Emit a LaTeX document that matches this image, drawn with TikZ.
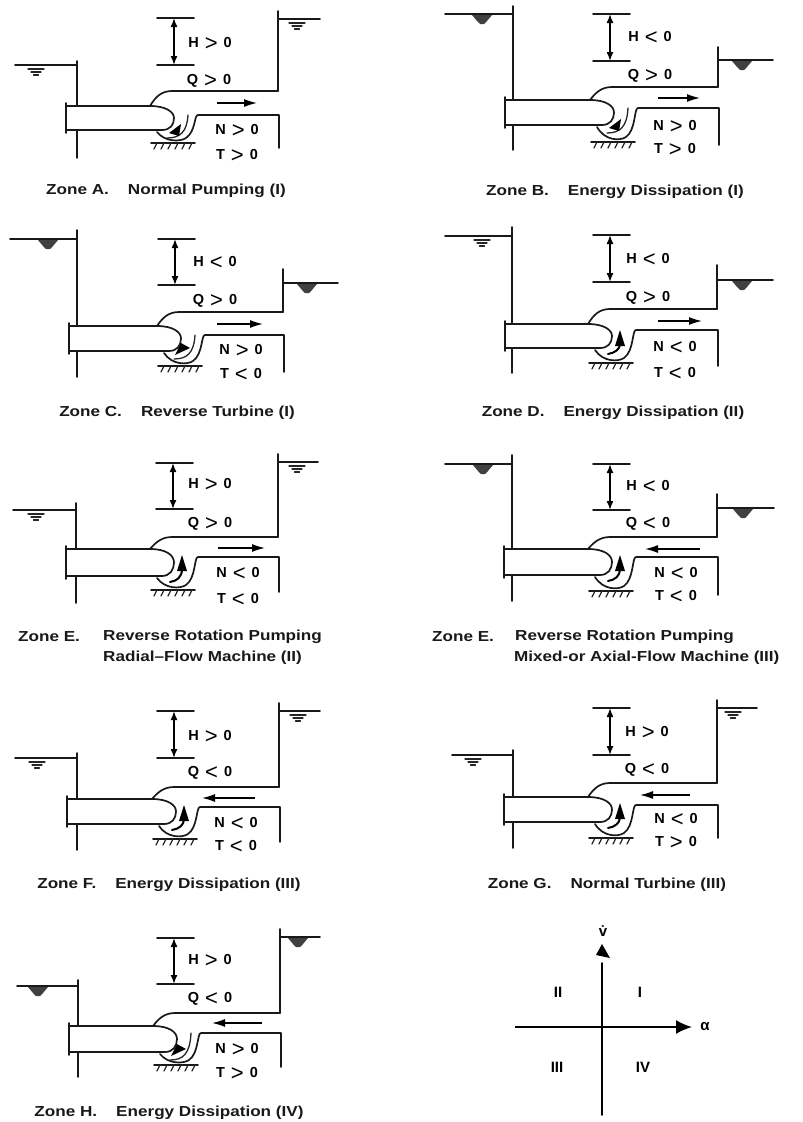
\documentclass[tikz,border=0pt]{standalone}
\usepackage{fontspec}
\setmainfont{Liberation Sans}
\newfontfamily\capfont[FakeStretch=1.18]{Liberation Sans Bold}
\usetikzlibrary{arrows.meta}
\tikzset{
  wallline/.style={line width=1.7pt,line cap=round,line join=round,draw=black!90},
  thinline/.style={line width=1.3pt,line cap=round,draw=black!85},
  dimarrow/.style={line width=1.5pt,{Latex[length=9pt,width=7pt]}-{Latex[length=9pt,width=7pt]}},
  flowarrow/.style={line width=1.4pt,-{Latex[length=13pt,width=8pt]}},
  signtext/.style={inner sep=0pt,yshift=-1pt,font=\bfseries\fontsize{14.5}{15}\selectfont},
  captext/.style={inner sep=0pt,font=\capfont\fontsize{14.5}{18}\selectfont,text=black!90},
  quadtext/.style={inner sep=0pt,font=\bfseries\fontsize{15}{16}\selectfont},
}
\newcommand{\sgn}[3]{#1\hspace{6pt}\raisebox{-2.5pt}{\normalfont\fontsize{22}{22}\selectfont #2}\hspace{6pt}#3}
% geometry of a panel
\newcommand{\setpanel}[9]{\def\vx{#1}\def\ptop{#2}\def\pbot{#3}\def\fx{#4}\def\voly{#5}\def\rwx{#6}\def\outy{#7}\def\outbot{#8}\def\gy{#9}}
\newcommand{\watersym}[2]{%
  \draw[thinline] ({#1-8},{#2+4}) -- ({#1+8},{#2+4});
  \draw[thinline] ({#1-5},{#2+7}) -- ({#1+5},{#2+7});
  \draw[thinline] ({#1-2.5},{#2+10}) -- ({#1+2.5},{#2+10});}
\newcommand{\waterblot}[2]{%
  \fill[black!75] ({#1-10},{#2+1}) -- ({#1+10},{#2+1}) -- ({#1+5},{#2+7}) -- ({#1+2},{#2+10}) -- ({#1-2},{#2+10}) -- ({#1-5},{#2+7}) -- cycle;}
\newcommand{\lefttank}[6]{%
  \draw[wallline] (#1,#3) -- (#2,#3);
  \draw[wallline] (#2,#4) -- (#2,\ptop);
  \draw[wallline] (#2,\pbot) -- (#2,#5);
  \ifnum\wmode=1 \waterblot{#6}{#3}\else\watersym{#6}{#3}\fi}
\newcommand{\righttank}[4]{%
  \draw[wallline] (\rwx,\voly) -- (\rwx,#1);
  \draw[wallline] (\rwx,#2) -- (#3,#2);
  \ifnum\wmode=1 \waterblot{#4}{#2}\else\watersym{#4}{#2}\fi}
\newcommand{\vaneup}{%
  \fill ({\vx+32},{\ptop+6}) -- ({\vx+37},{\ptop+22}) -- ({\vx+27},{\ptop+22}) -- cycle;
  \draw[line width=2pt,line cap=round] ({\vx+32},{\ptop+20}) .. controls ({\vx+32},{\pbot+1}) and ({\vx+27},{\pbot+5}) .. ({\vx+20},{\pbot+6});}
\newcommand{\vaneur}{%
  \draw[thinline] ({\vx+38},{\outy}) .. controls ({\vx+37},{\pbot+2}) and ({\vx+30},{\pbot+8}) .. ({\vx+17},{\pbot+8});
  \fill ({\vx+31},{\pbot-6}) -- ({\vx+19},{\pbot+3}) -- ({\vx+29},{\pbot+6}) -- cycle;}
\newcommand{\vanedl}{%
  \draw[thinline] ({\vx+38},{\outy}) .. controls ({\vx+37},{\pbot+2}) and ({\vx+30},{\pbot+8}) .. ({\vx+17},{\pbot+8});
  \fill ({\vx+18},{\pbot+4}) -- ({\vx+24},{\pbot-8}) -- ({\vx+33},{\pbot-3}) -- cycle;}
\newcommand{\pumpbody}[1]{%
  \draw[wallline] (\fx,{\ptop-3}) -- (\fx,{\pbot+3});
  \draw[wallline] (\fx,\ptop) -- (\vx,\ptop)
     .. controls ({\vx+16},\ptop) and ({\vx+24},{\ptop+6}) .. ({\vx+24},{(\ptop+\pbot)/2})
     .. controls ({\vx+24},{(\ptop+\pbot)/2+7}) and ({\vx+20},\pbot) .. ({\vx+12},\pbot) -- (\fx,\pbot);
  \draw[wallline] (\vx,\ptop) .. controls ({\vx+6},{\voly+5}) and ({\vx+12},\voly) .. ({\vx+22},\voly) -- (\rwx,\voly);
  \draw[wallline] ({\rwx+1},\outbot) -- ({\rwx+1},\outy) -- ({\vx+48},\outy)
     .. controls ({\vx+44},\outy) and ({\vx+46},{\gy-12}) .. ({\vx+36},{\gy-5})
     .. controls ({\vx+30},{\gy-1}) and ({\vx+15},{\gy-1}) .. ({\vx+7},{\pbot+2});
  \draw[wallline] ({\vx+1},\gy) -- ({\vx+45},\gy);
  \foreach \h in {7,14,21,28,35,42}{\draw[thinline] ({\vx+\h},\gy) -- ({\vx+\h-3},{\gy+6});}
  #1}
\newcommand{\headmark}[7]{%
  \draw[wallline] (#2,#3) -- ({#2+37},#3);
  \draw[wallline] (#2,#4) -- ({#2+37},#4);
  \coordinate (#1ha) at ({#2+17},#3);
  \coordinate (#1hb) at ({#2+17},#4);
  \draw[dimarrow] (#1ha) -- (#1hb);
  \node[signtext] (#1h) at (#6,#7) {#5};}
\newcommand{\flow}[4]{%
  \coordinate (#1fa) at (#2,#4);
  \coordinate (#1fb) at (#3,#4);
  \draw[flowarrow] (#1fa) -- (#1fb);}
\newcommand{\signs}[8]{%
  \node[signtext] (#1q) at (#3,#4) {#2};
  \node[signtext] (#1n) at (#6,#7) {#5};
  \node[signtext] (#1t) at (#6,#8) {\tsign};}
\begin{document}
\begin{tikzpicture}[x=1pt,y=-1pt]
\useasboundingbox (0,0) rectangle (803,1122);

% Zone A
\def\wmode{0}
\setpanel{150}{106}{130}{66}{91}{278}{115}{148}{143}
\lefttank{15}{77}{65}{61}{158}{36}
\righttank{11}{19}{320}{297}
\pumpbody{\vaneur}
\headmark{a}{157}{18}{65}{\sgn{H}{>}{0}}{210}{43}
\flow{a}{217}{257}{103}
\def\tsign{\sgn{T}{>}{0}}
\signs{a}{\sgn{Q}{>}{0}}{209}{80}{\sgn{N}{>}{0}}{237}{130}{155}
\node[captext] (acap) at (166,191) {Zone A.\hspace{19pt}Normal Pumping (I)};

% Zone B
\def\wmode{1}
\setpanel{590}{100}{125}{505}{87}{718}{108}{145}{142}
\lefttank{445}{513}{14}{6}{150}{482}
\righttank{47}{60}{773}{742}
\pumpbody{\vaneur}
\headmark{b}{593}{14}{61}{\sgn{H}{<}{0}}{650}{37}
\flow{b}{658}{700}{98}
\def\tsign{\sgn{T}{>}{0}}
\signs{b}{\sgn{Q}{>}{0}}{650}{75}{\sgn{N}{>}{0}}{675}{126}{149}
\node[captext] (bcap) at (615,192) {Zone B.\hspace{19pt}Energy Dissipation (I)};

% Zone C
\setpanel{157}{326}{351}{69}{312}{283}{335}{372}{366}
\lefttank{10}{77}{239}{230}{377}{48}
\righttank{269}{283}{338}{307}
\pumpbody{\vanedl}
\headmark{c}{158}{239}{285}{\sgn{H}{<}{0}}{215}{262}
\flow{c}{217}{263}{324}
\def\tsign{\sgn{T}{<}{0}}
\signs{c}{\sgn{Q}{>}{0}}{215}{300}{\sgn{N}{>}{0}}{241}{350}{374}
\node[captext] (ccap) at (177,413) {Zone C.\hspace{19pt}Reverse Turbine (I)};

% Zone D
\setpanel{588}{324}{348}{505}{309}{717}{330}{366}{363}
\def\wmode{0}
\lefttank{445}{512}{236}{227}{373}{482}
\def\wmode{1}
\righttank{265}{280}{773}{742}
\pumpbody{\vaneup}
\headmark{d}{593}{235}{282}{\sgn{H}{<}{0}}{648}{259}
\flow{d}{658}{702}{321}
\def\tsign{\sgn{T}{<}{0}}
\signs{d}{\sgn{Q}{>}{0}}{648}{297}{\sgn{N}{<}{0}}{675}{347}{373}
\node[captext] (dcap) at (613,413) {Zone D.\hspace{19pt}Energy Dissipation (II)};

% Zone E (II)
\def\wmode{0}
\setpanel{150}{549}{576}{66}{537}{278}{557}{592}{590}
\lefttank{13}{76}{510}{503}{603}{36}
\righttank{454}{462}{318}{297}
\pumpbody{\vaneup}
\headmark{e}{156}{463}{509}{\sgn{H}{>}{0}}{210}{484}
\flow{e}{218}{265}{548}
\def\tsign{\sgn{T}{<}{0}}
\signs{e}{\sgn{Q}{>}{0}}{210}{523}{\sgn{N}{<}{0}}{238}{573}{599}
\node[captext,anchor=west] (ecapz) at (18,637) {Zone E.};
\node[captext,anchor=west] (ecapa) at (103,637) {Reverse Rotation Pumping};
\node[captext,anchor=west] (ecapb) at (103,658) {Radial–Flow Machine (II)};

% Zone E (III)
\def\wmode{1}
\setpanel{588}{549}{575}{504}{537}{717}{557}{595}{591}
\lefttank{445}{512}{464}{455}{601}{483}
\righttank{494}{508}{774}{743}
\pumpbody{\vaneup}
\headmark{g}{593}{464}{510}{\sgn{H}{<}{0}}{648}{486}
\flow{g}{700}{645}{549}
\def\tsign{\sgn{T}{<}{0}}
\signs{g}{\sgn{Q}{<}{0}}{648}{523}{\sgn{N}{<}{0}}{676}{573}{596}
\node[captext,anchor=west] (gcapz) at (432,637) {Zone E.};
\node[captext,anchor=west] (gcapa) at (515,637) {Reverse Rotation Pumping};
\node[captext,anchor=west] (gcapb) at (514,658) {Mixed-or Axial-Flow Machine (III)};

% Zone F
\def\wmode{0}
\setpanel{152}{799}{824}{67}{787}{279}{807}{842}{839}
\lefttank{15}{77}{758}{753}{850}{37}
\righttank{703}{711}{320}{298}
\pumpbody{\vaneup}
\headmark{f}{157}{711}{758}{\sgn{H}{>}{0}}{210}{736}
\flow{f}{255}{202}{798}
\def\tsign{\sgn{T}{<}{0}}
\signs{f}{\sgn{Q}{<}{0}}{210}{772}{\sgn{N}{<}{0}}{236}{823}{846}
\node[captext] (fcap) at (169,885) {Zone F.\hspace{19pt}Energy Dissipation (III)};

% Zone G
\setpanel{588}{797}{822}{504}{783}{717}{805}{838}{838}
\lefttank{452}{513}{755}{750}{848}{473}
\righttank{700}{708}{757}{733}
\pumpbody{\vaneup}
\headmark{j}{593}{708}{755}{\sgn{H}{>}{0}}{647}{732}
\flow{j}{690}{640}{795}
\def\tsign{\sgn{T}{>}{0}}
\signs{j}{\sgn{Q}{<}{0}}{647}{769}{\sgn{N}{<}{0}}{676}{819}{842}
\node[captext] (jcap) at (607,885) {Zone G.\hspace{19pt}Normal Turbine (III)};

% Zone H
\def\wmode{1}
\setpanel{153}{1026}{1052}{69}{1013}{280}{1033}{1067}{1065}
\lefttank{17}{78}{986}{980}{1077}{38}
\righttank{929}{937}{320}{298}
\pumpbody{\vanedl}
\headmark{k}{157}{938}{984}{\sgn{H}{>}{0}}{210}{960}
\flow{k}{262}{212}{1023}
\def\tsign{\sgn{T}{>}{0}}
\signs{k}{\sgn{Q}{<}{0}}{210}{998}{\sgn{N}{>}{0}}{237}{1049}{1073}
\node[captext] (kcap) at (169,1113) {Zone H.\hspace{19pt}Energy Dissipation (IV)};

% Quadrant axes
\coordinate (axl) at (515,1027);
\coordinate (axr) at (692,1027);
\coordinate (axb) at (602,1115);
\coordinate (axt) at (602,963);
\draw[line width=1.8pt,-{Latex[length=16pt,width=14pt]}] (axl) -- (axr);
\draw[line width=1.8pt,line cap=round] (axb) -- (axt);
\fill (602,944) -- (610,958) -- (596,955) -- cycle;
\node[quadtext] (vlab) at (603,931) {\.v};
\node[quadtext] (alab) at (705,1027) {α};
\node[quadtext] (q2) at (558,992) {II};
\node[quadtext] (q1) at (640,992) {I};
\node[quadtext] (q3) at (557,1067) {III};
\node[quadtext] (q4) at (643,1067) {IV};
\end{tikzpicture}
\end{document}
